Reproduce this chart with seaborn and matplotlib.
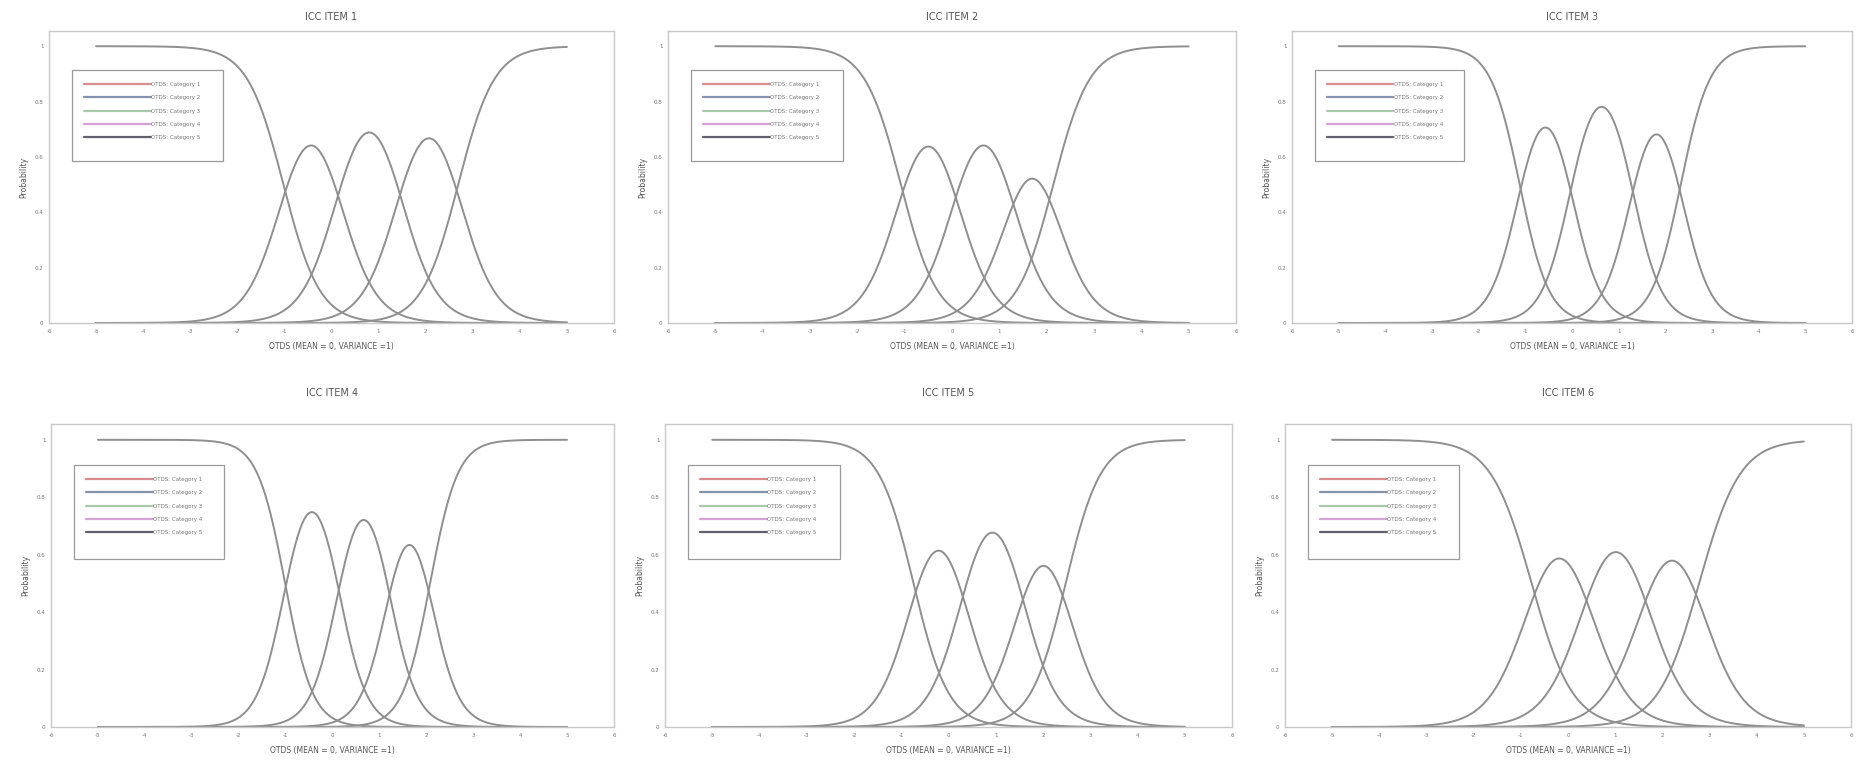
import numpy as np
import pandas as pd
import seaborn as sns
import matplotlib.pyplot as plt
from matplotlib.lines import Line2D
from matplotlib.patches import Rectangle

# graded response model parameters
items = ["ICC ITEM 1", "ICC ITEM 2", "ICC ITEM 3", "ICC ITEM 4", "ICC ITEM 5", "ICC ITEM 6"]
slopes = [2.6, 2.6, 3.2, 3.4, 2.7, 2.3]
thresholds = [
    [-1.02, 0.15, 1.45, 2.69],
    [-1.08, 0.08, 1.25, 2.14],
    [-1.12, -0.02, 1.29, 2.33],
    [-1.01, 0.13, 1.20, 2.08],
    [-0.74, 0.32, 1.54, 2.48],
    [-0.77, 0.40, 1.63, 2.78],
]
categories = ["OTDS: Category 1", "OTDS: Category 2", "OTDS: Category 3",
              "OTDS: Category 4", "OTDS: Category 5"]
legend_colors = ["#d98c8c", "#8493ad", "#a9c9a9", "#d4a3d4", "#5f5f6e"]
x_ticks = [-6, -5, -4, -3, -2, -1, 0, 1, 2, 3, 4, 5, 6]
y_ticks = [0, 0.2, 0.4, 0.6, 0.8, 1]
theta = np.linspace(-5, 5, 401)

sns.set_theme(style="white")
plt.rcParams['font.family'] = ['DejaVu Sans']

fig = plt.figure(figsize=(18.6, 7.67), dpi=100)
W, H = 1860, 767
# axes boxes in pixels: left, top, right, bottom
boxes = [
    (49, 31, 614, 323), (668, 31, 1236, 323), (1292, 31, 1852, 323),
    (51, 424, 614, 727), (665, 424, 1232, 727), (1285, 424, 1851, 727),
]
title_pads = [8, 8, 8, 20, 20, 20]

for name, a, b, (l, t, r, bt), tp in zip(items, slopes, thresholds, boxes, title_pads):
    ax = fig.add_axes([l / W, 1 - bt / H, (r - l) / W, (bt - t) / H])
    pstar = [np.ones_like(theta)] + [1 / (1 + np.exp(-a * (theta - bk))) for bk in b] + [np.zeros_like(theta)]
    rows = []
    for k, cat in enumerate(categories):
        rows.append(pd.DataFrame({"theta": theta, "p": pstar[k] - pstar[k + 1], "cat": cat}))
    df = pd.concat(rows)
    for cat in categories:
        sns.lineplot(data=df[df["cat"] == cat], x="theta", y="p", ax=ax,
                     color="#8f8f8f", lw=1.4, legend=False)
    ax.set_xlim(-6, 6)
    ax.set_ylim(0, 1.055)
    ax.set_xticks(x_ticks)
    ax.set_yticks(y_ticks)
    ax.set_xticklabels([str(v) for v in x_ticks], fontsize=4, color="#777777")
    ax.set_yticklabels(["0", "0.2", "0.4", "0.6", "0.8", "1"], fontsize=4, color="#777777")
    ax.tick_params(axis="both", length=2, width=0.6, color="#aaaaaa", pad=2, direction="out")
    for s in ax.spines.values():
        s.set_color("#c8c8c8")
        s.set_linewidth(1.0)
    ax.set_title(name, fontsize=7, color="#555555", pad=tp)
    ax.set_xlabel("OTDS (MEAN = 0, VARIANCE =1)", fontsize=5.5, color="#555555", labelpad=6)
    ax.set_ylabel("Probability", fontsize=5.5, color="#555555", labelpad=5)

    # legend frame is taller than its entries in the original
    ax.add_patch(Rectangle((0.041, 0.555), 0.267, 0.31, transform=ax.transAxes,
                           fill=False, edgecolor="#9a9a9a", lw=0.9, zorder=5))
    handles = [Line2D([], [], color=c, lw=1.6) for c in legend_colors]
    leg = ax.legend(handles, categories, loc="upper left", bbox_to_anchor=(0.062, 0.825),
                    fontsize=4, handlelength=12, labelspacing=1.5, borderpad=0,
                    handletextpad=0.1, frameon=False, borderaxespad=0)
    for txt in leg.get_texts():
        txt.set_color("#777777")

fig.savefig("out.png", dpi=100)
